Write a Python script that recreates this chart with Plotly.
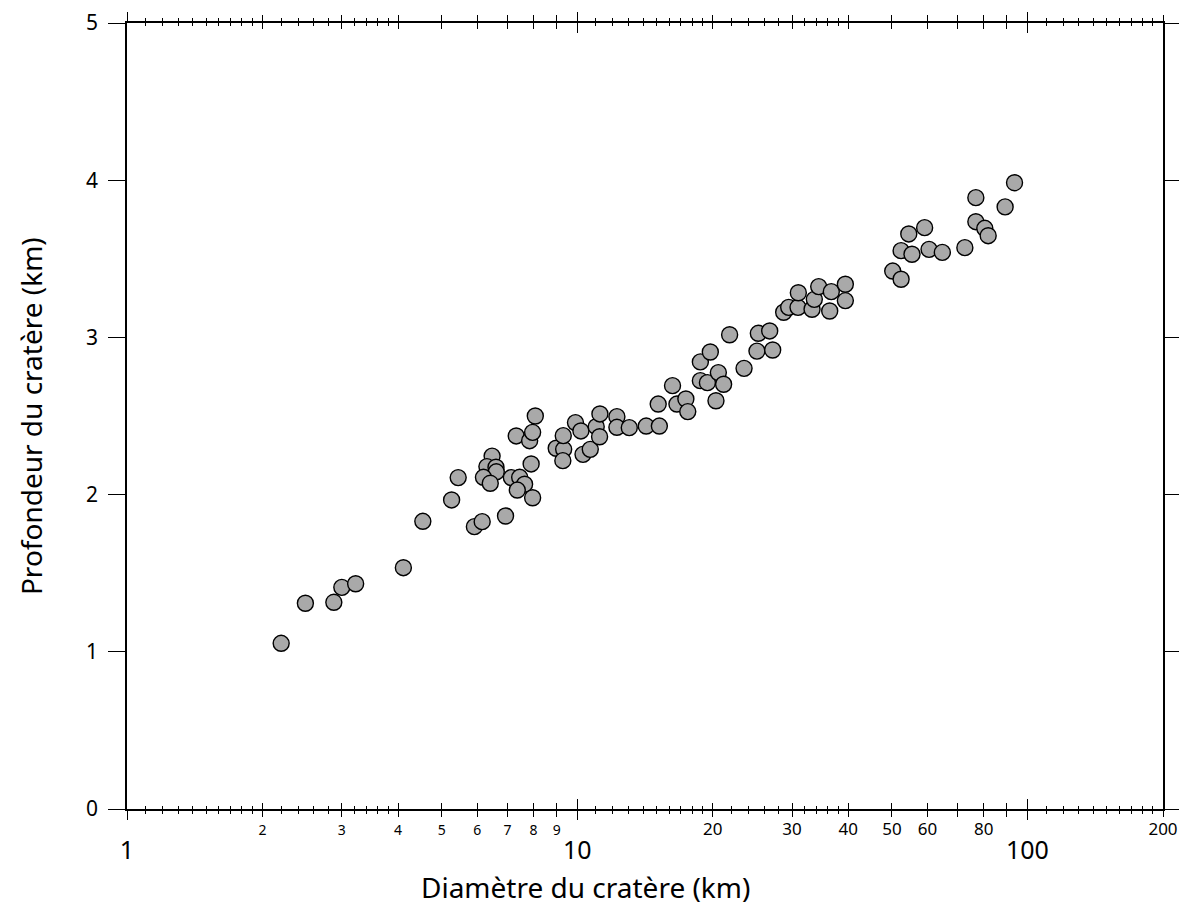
import math
import plotly.graph_objects as go

# ---- data ----
diametre_km = [
    2.20, 2.49, 2.88, 3.00, 3.22, 4.11, 4.54, 5.26, 5.44,
    5.91, 6.15, 6.93, 6.47, 6.30, 6.60, 6.61, 6.19, 6.41,
    7.14, 7.45, 7.64, 7.36, 7.96, 7.90, 7.32, 7.84, 7.96, 8.07,
    8.98, 9.33, 9.31, 9.29, 9.91, 10.19, 10.30, 10.69, 11.02, 11.23, 11.21,
    12.25, 12.25, 13.05, 14.23, 15.22, 15.13, 16.28, 16.65, 17.43, 17.60,
    18.77, 19.75, 18.77, 19.46, 20.58, 21.14, 20.33, 21.80, 23.47,
    25.25, 26.76, 25.07, 27.17, 28.74, 29.49, 30.93, 30.98, 33.23, 33.62,
    34.38, 36.37, 36.67, 39.40, 39.40,
    50.2, 52.4, 52.4, 54.5, 55.4, 59.1, 60.45, 64.7, 72.6, 76.8, 76.8,
    80.4, 81.8, 89.2, 93.6,
]
profondeur_km = [
    1.054, 1.309, 1.315, 1.410, 1.433, 1.535, 1.830, 1.966, 2.108,
    1.796, 1.828, 1.864, 2.245, 2.178, 2.174, 2.145, 2.110, 2.072,
    2.108, 2.110, 2.066, 2.029, 1.980, 2.195, 2.373, 2.343, 2.396, 2.500,
    2.295, 2.288, 2.375, 2.216, 2.458, 2.405, 2.256, 2.288, 2.432, 2.513, 2.368,
    2.496, 2.428, 2.426, 2.436, 2.436, 2.576, 2.693, 2.576, 2.608, 2.528,
    2.844, 2.907, 2.725, 2.712, 2.776, 2.702, 2.597, 3.017, 2.803,
    3.026, 3.041, 2.913, 2.920, 3.160, 3.191, 3.191, 3.284, 3.179, 3.242,
    3.323, 3.168, 3.291, 3.338, 3.234,
    3.422, 3.370, 3.552, 3.658, 3.529, 3.698, 3.560, 3.541, 3.571, 3.889, 3.736,
    3.694, 3.647, 3.830, 3.984,
]

# axis ticks
x_major_vals = [1, 10, 100]
x_major_text = ["1", "10", "100"]
x_mid_vals = [2, 3, 4, 5, 6, 7, 8, 9, 20, 30, 40, 50, 60, 70, 80, 90, 200]
x_mid_text = ["2", "3", "4", "5", "6", "7", "8", "9",
              "20", "30", "40", "50", "60", "", "80", "", "200"]
x_mid_small = [True] * 8 + [False] * 9
x_minor_vals = [1.1, 1.2, 1.3, 1.4, 1.5, 1.6, 1.7, 1.8, 1.9,
                2.2, 2.4, 2.6, 2.8, 3.2, 3.4, 3.6, 3.8,
                11, 12, 13, 14, 15, 16, 17, 18, 19,
                22, 24, 26, 28, 32, 34, 36, 38,
                110, 120, 130, 140, 150, 160, 170, 180, 190]
y_vals = [0, 1, 2, 3, 4, 5]

x_title = "Diamètre du cratère (km)"
y_title = "Profondeur du cratère (km)"

FONT = "Noto Sans"
XR = [0, math.log10(200)]

mid_labels = [
    (f'<span style="font-size:14px">{t}</span>' if s else t)
    for t, s in zip(x_mid_text, x_mid_small)
]

fig = go.Figure()
fig.add_trace(go.Scatter(
    x=diametre_km, y=profondeur_km, mode="markers",
    marker=dict(size=16, color="#a9a9a9", line=dict(color="black", width=1.4)),
    hoverinfo="skip", showlegend=False,
))
for ax in ["x2", "x3", "x4"]:
    fig.add_trace(go.Scatter(x=[], y=[], xaxis=ax, yaxis="y",
                             hoverinfo="skip", showlegend=False))

common = dict(type="log", range=XR, showgrid=False, zeroline=False,
              tickcolor="black", tickwidth=1.3, fixedrange=True, automargin=False)

fig.update_layout(
    width=1171, height=903,
    margin=dict(l=119, r=16, t=15, b=102),
    paper_bgcolor="white", plot_bgcolor="white",
    font=dict(family=FONT, color="black"),
    xaxis=dict(
        **common, tickmode="array", tickvals=x_mid_vals, ticktext=mid_labels,
        ticks="outside", ticklen=6, mirror="ticks",
        showline=True, linecolor="black", linewidth=1.5,
        tickfont=dict(size=17, family=FONT), ticklabelstandoff=-2,
        minor=dict(tickmode="array", tickvals=x_minor_vals, ticks="outside",
                   ticklen=3, tickwidth=1.3, tickcolor="black"),
    ),
    xaxis2=dict(
        **common, overlaying="x", anchor="y", side="bottom",
        tickmode="array", tickvals=x_mid_vals, ticks="inside", ticklen=6,
        mirror="ticks", showticklabels=False, showline=False,
        minor=dict(tickmode="array", tickvals=x_minor_vals, ticks="inside",
                   ticklen=3, tickwidth=1.3, tickcolor="black"),
    ),
    xaxis3=dict(
        **common, overlaying="x", anchor="y", side="bottom",
        tickmode="array", tickvals=x_major_vals, ticktext=x_major_text,
        ticks="outside", ticklen=10, mirror="ticks", showline=False,
        tickfont=dict(size=25, family=FONT), ticklabelstandoff=9,
    ),
    xaxis4=dict(
        **common, overlaying="x", anchor="y", side="bottom",
        tickmode="array", tickvals=x_major_vals, ticks="inside", ticklen=10,
        mirror="ticks", showticklabels=False, showline=False,
    ),
    yaxis=dict(
        range=[0, 5], tickmode="array", tickvals=y_vals,
        ticks="outside", ticklen=17, tickwidth=1.3, tickcolor="black",
        mirror="ticks", showline=True, linecolor="black", linewidth=1.5,
        showgrid=False, zeroline=False, fixedrange=True, automargin=False,
        tickfont=dict(size=21, family=FONT), ticklabelstandoff=6,
    ),
    annotations=[
        dict(text=x_title, xref="paper", yref="paper", x=0.4426, y=-0.099,
             xanchor="center", yanchor="middle", showarrow=False,
             font=dict(size=28, family=FONT, color="black")),
        dict(text=y_title, xref="paper", yref="paper", x=-0.0926, y=0.5,
             xanchor="center", yanchor="middle", showarrow=False, textangle=-90,
             font=dict(size=28, family=FONT, color="black")),
    ],
)

fig.write_html("out.html")
